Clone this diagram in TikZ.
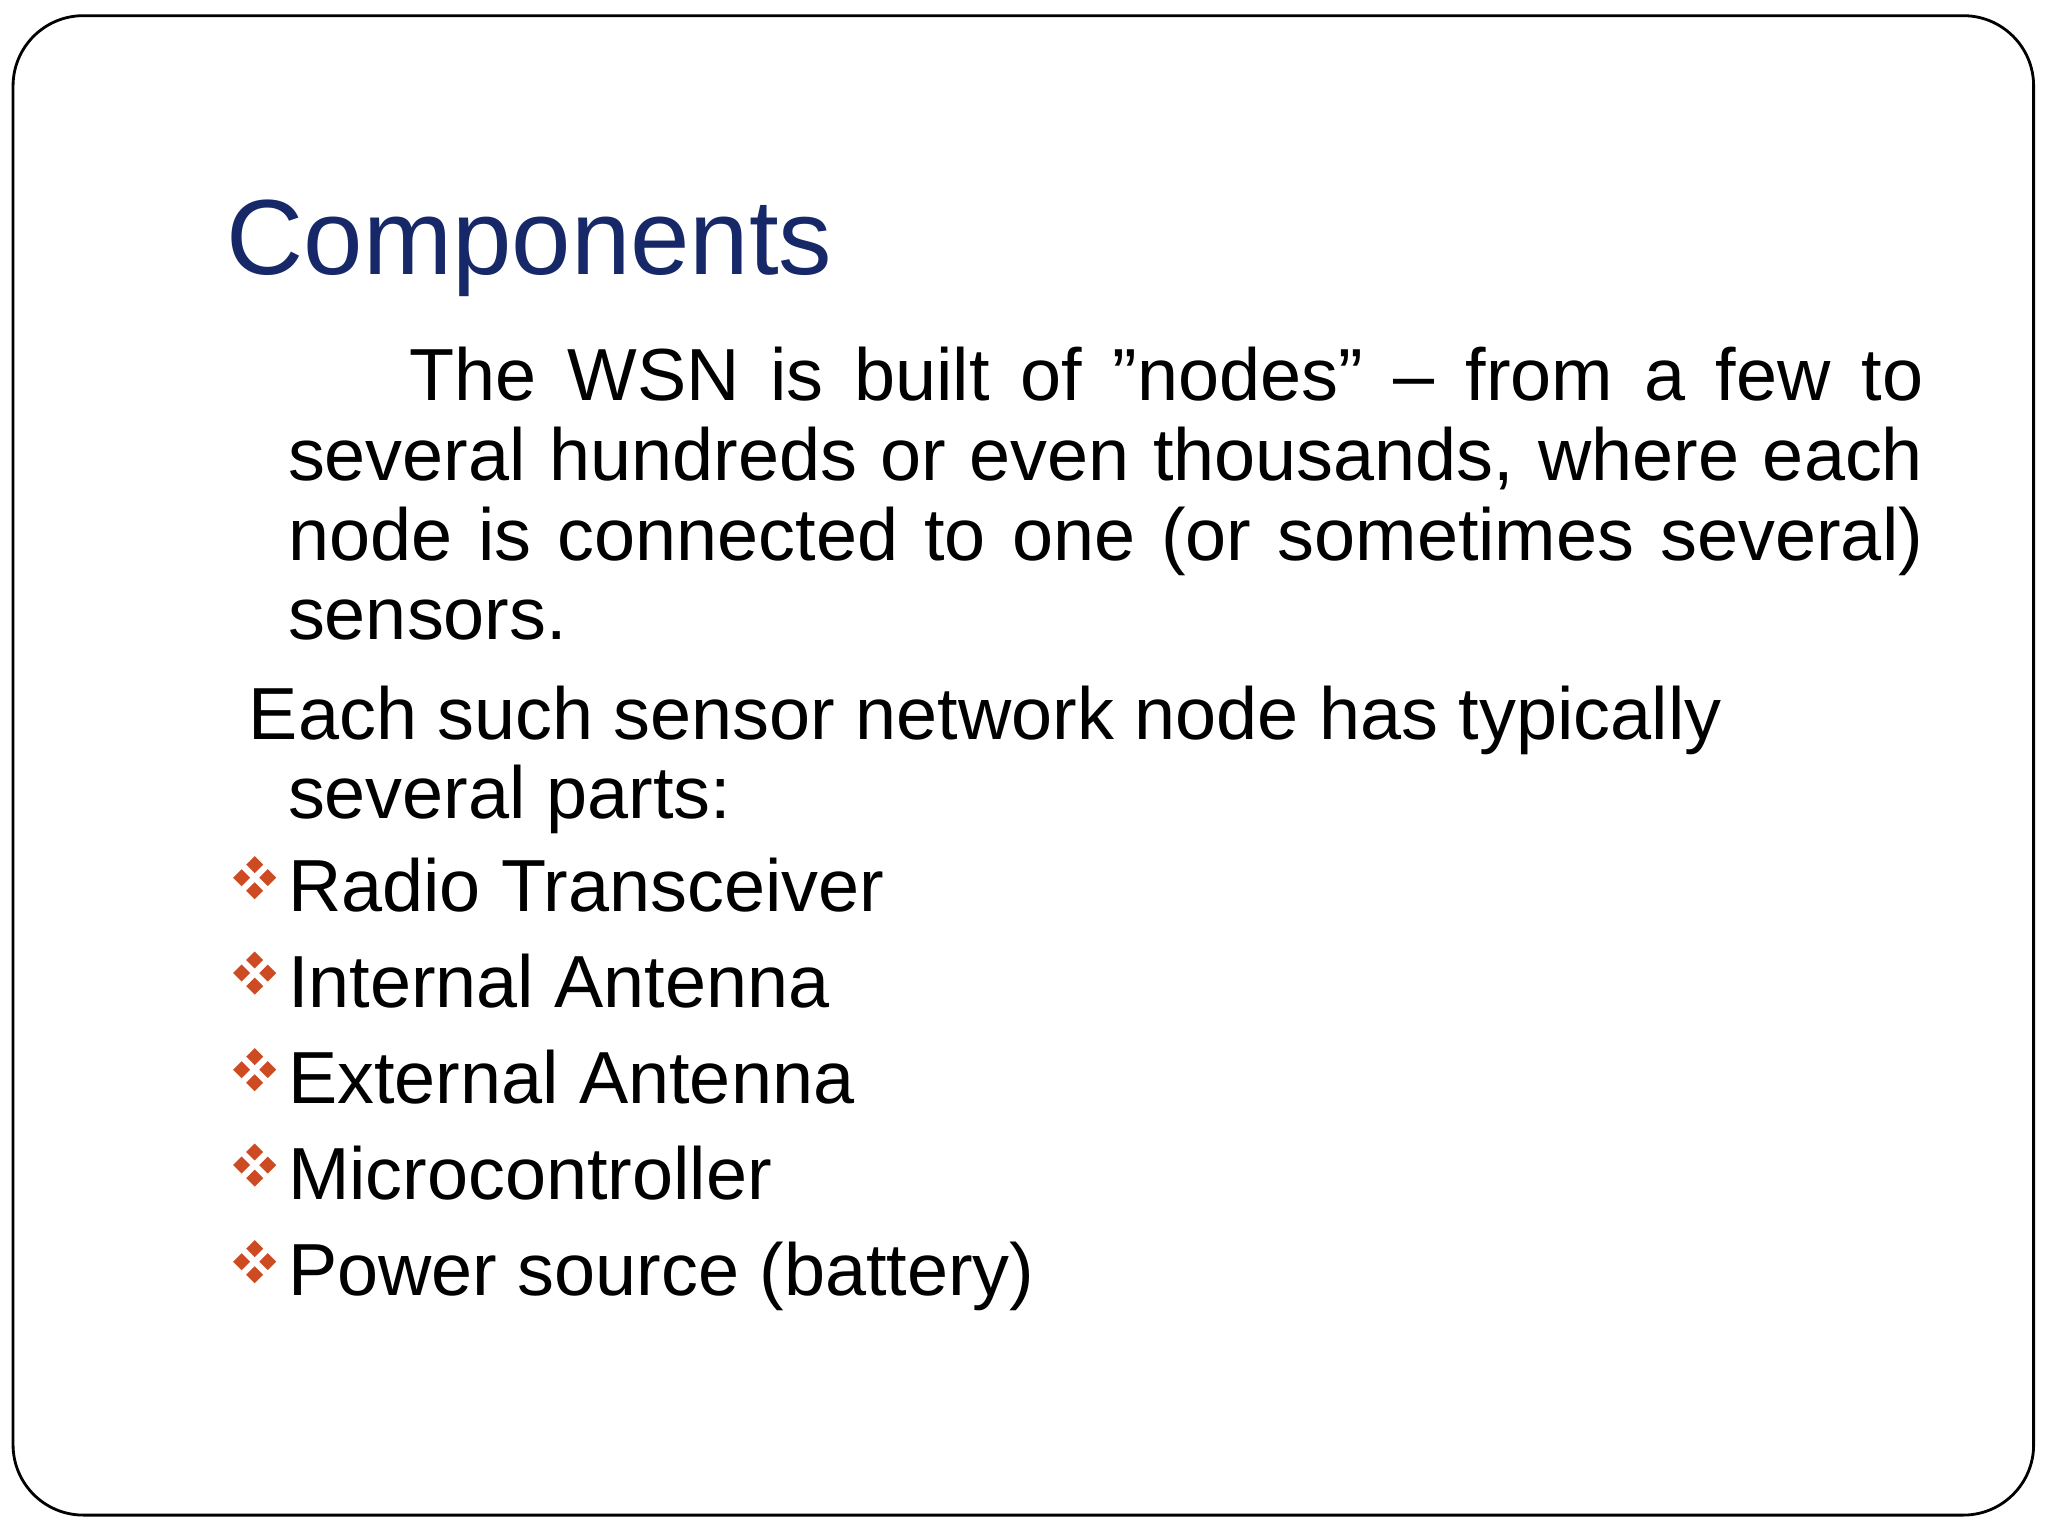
\documentclass[tikz,border=0pt]{standalone}
\usepackage{fontspec}
\setmainfont{Liberation Sans}
\definecolor{navy}{RGB}{23,40,105}
\definecolor{bulc}{RGB}{205,75,35}
\newcommand{\jline}[2]{\makebox[#1\dimexpr 0.01306cm\relax][s]{#2}}
\newcommand{\sq}{\symbol{"22}}
\begin{document}
\begin{tikzpicture}[x=0.01306cm,y=-0.01306cm,
  body/.style={anchor=base west,inner sep=0,font=\fontsize{21.0pt}{26pt}\selectfont},
  dia/.style={fill=bulc,draw=none},
  pics/bul/.style={code={
    \foreach \dx/\dy in {0/-10,0/10,-10/0,10/0}
      \fill[dia] (\dx,\dy-6.5) -- (\dx+6.5,\dy) -- (\dx,\dy+6.5) -- (\dx-6.5,\dy) -- cycle;}}]
\useasboundingbox (0,0) rectangle (1568,1176);
\draw[line width=0.8pt,rounded corners=20pt] (10,12) rectangle (1557,1160);
\node[anchor=base west,inner sep=0,text=navy,font=\fontsize{30.4pt}{36pt}\selectfont] (title) at (173,210) {Components};
\node[body] (l1) at (313,307) {\jline{1159}{The WSN is built of \sq nodes\sq{} – from a few to}};
\node[body] (l2) at (220,368) {\jline{1252}{several hundreds or even thousands, where each}};
\node[body] (l3) at (220,429) {\jline{1252}{node is connected to one (or sometimes several)}};
\node[body] (l4) at (220,490) {sensors.};
\node[body] (e1) at (190,566) {Each such sensor network node has typically};
\node[body] (e2) at (220,627) {several parts:};
\foreach \t/\yy [count=\i] in {Radio Transceiver/698,Internal Antenna/771,External Antenna/845,Microcontroller/918,Power source (battery)/992}{
  \node[body] (b\i) at (220,\yy) {\t};
  \pic at (195,\yy-26) {bul};
}
\end{tikzpicture}
\end{document}
